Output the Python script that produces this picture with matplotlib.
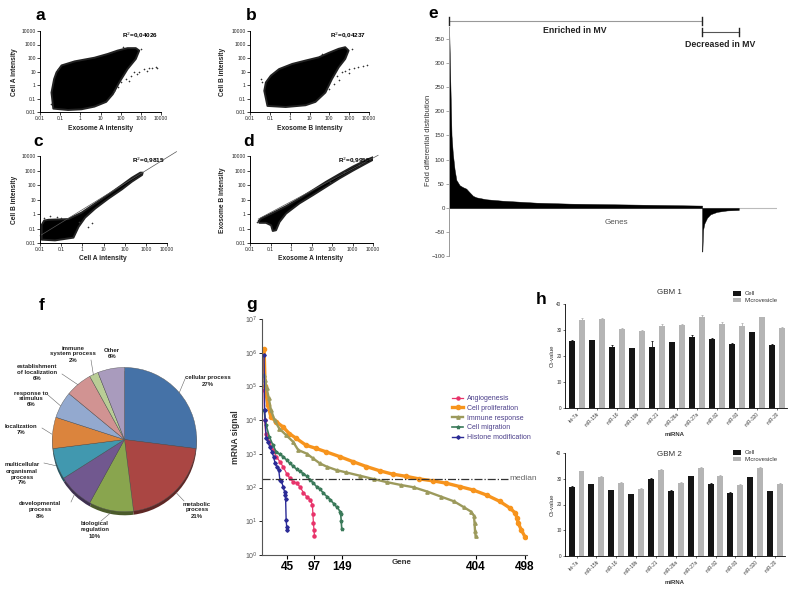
import numpy as np
import matplotlib.pyplot as plt
from matplotlib.lines import Line2D

plt.rcParams['font.family'] = ['Liberation Sans', 'DejaVu Sans']

# ---------- data (scatter clouds as log10 outlines) ----------
a_cloud_lx = [-1.34, -1.43, -1.30, -1.18, -0.93, -0.28, 0.70, 1.36, 1.85, 2.34, 2.75, 2.92, 2.75, 2.34, 1.93, 1.61, 1.28, 0.70, 0.05, -0.61]
a_cloud_ly = [-1.75, -0.56, 0.44, 0.94, 1.45, 1.75, 2.02, 2.30, 2.55, 2.73, 2.73, 2.55, 1.93, 1.18, 0.19, -0.68, -1.25, -1.60, -1.80, -1.85]
a_stray_lx = [2.02, 2.26, 2.51, 2.67, 2.92, 3.16, 3.41, 3.57, 3.74, 3.82, 1.69, 1.85, -1.13, 3.0, 2.1, -1.43, 2.4, 2.8, 3.3]
a_stray_ly = [0.19, 0.44, 0.69, 0.94, 0.94, 1.18, 1.23, 1.28, 1.31, 1.26, -0.43, -0.18, 1.18, 2.68, 2.8, -1.43, 0.3, 0.8, 1.05]

b_cloud_lx = [-1.12, -1.28, -1.20, -0.95, -0.53, 0.13, 0.80, 1.47, 1.97, 2.47, 2.80, 2.97, 2.80, 2.47, 2.13, 1.80, 1.30, 0.80, -0.20]
b_cloud_ly = [-1.55, -0.43, 0.19, 0.69, 1.18, 1.56, 1.81, 2.05, 2.38, 2.68, 2.80, 2.55, 1.93, 1.31, 0.44, -0.56, -1.25, -1.50, -1.63]
b_stray_lx = [2.38, 2.63, 2.80, 2.97, 3.22, 3.47, 3.72, 3.88, 1.97, 2.22, 3.13, -1.37, -1.45, 1.63, 2.5, 3.0]
b_stray_ly = [0.69, 0.94, 1.06, 1.18, 1.23, 1.31, 1.43, 1.48, -0.31, 0.06, 2.68, 0.19, 0.44, 2.30, 0.4, 0.9]

c_cloud_lx = [-1.92, -1.92, -1.80, -1.60, -0.66, -0.03, 0.61, 1.24, 1.87, 2.34, 2.74, 2.85, 2.82, 2.34, 1.87, 1.24, 0.61, 0.13, -0.18, -0.42, -1.29]
c_cloud_ly = [-1.77, -0.75, -0.45, -0.40, -0.35, 0.10, 0.73, 1.35, 2.00, 2.50, 2.85, 2.85, 2.69, 2.23, 1.70, 1.07, 0.38, -0.25, -0.89, -1.63, -1.82]
c_stray_lx = [-1.53, -1.80, -0.18, 0.29, -1.21, 0.45, -1.0]
c_stray_ly = [-0.15, -0.25, -0.55, -0.89, -0.20, -0.60, -0.25]
c_fit_lx = [-2.0, 4.45]
c_fit_ly = [-1.5, 4.3]

d_cloud_lx = [-1.58, -1.46, -0.89, -0.24, 0.41, 1.07, 1.72, 2.37, 3.02, 3.68, 4.08, 4.13, 3.68, 3.02, 2.37, 1.72, 1.07, 0.41, -0.24, -0.56, -0.73, -0.89, -0.97, -1.22, -1.54]
d_cloud_ly = [-0.48, -0.31, 0.08, 0.54, 1.07, 1.65, 2.23, 2.76, 3.27, 3.73, 3.96, 3.84, 3.50, 2.99, 2.46, 1.88, 1.30, 0.73, 0.03, -0.55, -1.12, -1.17, -0.78, -0.61, -0.61]
d_stray_lx = [-1.65, 1.9, 2.6, 3.3]
d_stray_ly = [-0.55, 2.2, 2.9, 3.4]
d_fit_lx = [-1.6, 4.25]
d_fit_ly = [-0.35, 4.05]

# ---------- panel e ----------
e_gene = [0, 2, 5, 10, 15, 22, 29, 42, 55, 68, 82, 95, 108, 147, 213, 345, 477, 608, 740, 872, 995, 1000]
e_fold = [380, 340, 265, 150, 113, 80, 58, 47, 43, 40, 32, 25, 22, 18, 15, 11, 9, 8, 7, 6, 5, 5]
e_dec_gene = [1000, 1001, 1004, 1009, 1020, 1033, 1059, 1099, 1145]
e_dec_fold = [-90, -90, -45, -32, -20, -13, -8, -5, -4]

# ---------- panel f ----------
go_terms = ['cellular process\n27%', 'metabolic\nprocess\n21%', 'biological\nregulation\n10%',
            'developmental\nprocess\n8%', 'multicellular\norganismal\nprocess\n7%', 'localization\n7%',
            'response to\nstimulus\n6%', 'establishment\nof localization\n6%', 'immune\nsystem process\n2%',
            'Other\n6%']
go_share = [27, 21, 10, 8, 7, 7, 6, 6, 2, 6]
go_colors = ['#4572A7', '#AA4643', '#89A54E', '#71588F', '#4198AF', '#DB843D',
             '#93A9CF', '#D19392', '#B9CD96', '#A99BBD']

# ---------- panel g ----------
histone_x = [1, 2, 3, 5, 8, 12, 16, 19, 22, 25, 29, 31, 34, 37, 40, 41, 42, 43, 44, 45]
histone_y = [8.3e5, 2.0e4, 1.0e4, 2900, 2300, 1600, 1150, 830, 520, 420, 330, 170, 160, 107, 76, 60, 45, 11, 7, 5.5]
angio_x = [1, 2, 4, 11, 18, 24, 31, 37, 44, 50, 56, 63, 69, 76, 82, 89, 93, 94, 95, 96, 97]
angio_y = [8e4, 1e4, 4000, 2300, 1300, 830, 590, 420, 260, 190, 150, 135, 107, 71, 54, 44, 31, 17, 9, 5.6, 3.7]
migr_x = [1, 5, 11, 18, 24, 31, 37, 44, 50, 56, 63, 69, 76, 82, 89, 95, 101, 108, 114, 121, 127, 134, 140, 146, 147, 148, 149]
migr_y = [2e4, 7000, 3200, 1800, 1150, 980, 830, 660, 520, 440, 350, 300, 260, 220, 170, 135, 107, 89, 68, 54, 44, 33, 26, 19.5, 16.6, 10, 5.9]
immune_x = [1, 3, 6, 10, 14, 21, 30, 43, 56, 66, 82, 94, 107, 120, 139, 158, 184, 210, 235, 261, 286, 312, 338, 363, 382, 395, 401, 402, 403, 404]
immune_y = [2.2e5, 1.5e5, 8.7e4, 4.4e4, 2e4, 1e4, 5600, 3600, 2300, 1300, 1020, 740, 525, 420, 330, 280, 224, 178, 145, 120, 102, 76, 54, 39, 26, 19.5, 14.5, 9, 5, 3.7]
prolif_x = [1, 3, 8, 14, 24, 37, 49, 62, 81, 100, 119, 145, 170, 196, 221, 246, 272, 297, 323, 348, 374, 399, 425, 450, 469, 480, 483, 485, 491, 498]
prolif_y = [1.3e6, 1e5, 2.8e4, 1.25e4, 9000, 6300, 4000, 2900, 1800, 1450, 1150, 830, 590, 420, 316, 250, 215, 180, 158, 135, 107, 85, 60, 39, 25, 17.4, 12.3, 9, 5.6, 3.5]
median_signal = 180
gene_ticks = [45, 97, 149, 404, 498]

# ---------- panel h ----------
mirnas = ['let-7a', 'miR-15b', 'miR-16', 'miR-19b', 'miR-21', 'miR-26a', 'miR-27a', 'miR-92', 'miR-93', 'miR-320', 'miR-20']
gbm1_cell = [25.9, 26.1, 23.6, 22.9, 23.6, 25.2, 27.5, 26.5, 24.7, 29.1, 24.2]
gbm1_cell_err = [0.3, 0.2, 0.6, 0.2, 2.0, 0.1, 0.5, 0.5, 0.4, 0.2, 0.3]
gbm1_mv = [33.9, 34.1, 30.3, 29.8, 31.4, 31.9, 34.9, 32.3, 31.6, 34.9, 30.7]
gbm1_mv_err = [0.9, 0.4, 0.3, 0.3, 0.8, 0.3, 1.0, 0.6, 1.1, 0.2, 0.6]
gbm2_cell = [26.8, 27.9, 25.5, 23.9, 29.9, 25.3, 31.0, 28.1, 24.5, 30.5, 25.2]
gbm2_cell_err = [0.2, 0.2, 0.2, 0.2, 0.2, 0.2, 0.2, 0.2, 0.2, 0.2, 0.2]
gbm2_mv = [32.9, 30.7, 28.5, 26.2, 33.4, 28.4, 34.3, 31.1, 27.7, 34.1, 27.9]
gbm2_mv_err = [0.3, 0.3, 0.3, 0.2, 0.3, 0.2, 0.3, 0.3, 0.3, 0.6, 0.3]

W, H = 800, 592
fig = plt.figure(figsize=(8, 5.92), dpi=100)


def box(l, t, r, b):
    return [l / W, 1 - b / H, (r - l) / W, (b - t) / H]


def txt(x, y, s, **kw):
    kw.setdefault('ha', 'center')
    kw.setdefault('va', 'center')
    fig.text(x / W, 1 - y / H, s, **kw)


def scatter_panel(rect, cx, cy, sx, sy, r2, fit=None):
    ax = fig.add_axes(box(*rect))
    ax.set_xscale('log')
    ax.set_yscale('log')
    ax.fill(10 ** np.array(cx), 10 ** np.array(cy), color='black', ec='#222', lw=1.4, joinstyle='round')
    ax.scatter(10 ** np.array(sx), 10 ** np.array(sy), marker='+', s=4, lw=0.4, color='#333')
    if fit is not None:
        ax.plot(10 ** np.array(fit[0]), 10 ** np.array(fit[1]), color='#555', lw=0.5, clip_on=False)
    dec = [0.01, 0.1, 1, 10, 100, 1000, 10000]
    lab = ['0.01', '0.1', '1', '10', '100', '1000', '10000']
    ax.set_xlim(0.01, 10000)
    ax.set_ylim(0.01, 10000)
    ax.minorticks_off()
    ax.set_xticks(dec)
    ax.set_xticklabels(lab)
    ax.set_yticks(dec)
    ax.set_yticklabels(lab)
    ax.tick_params(labelsize=3.6, length=2, width=0.6, pad=1, colors='#222')
    for s in ['top', 'right']:
        ax.spines[s].set_visible(False)
    for s in ['left', 'bottom']:
        ax.spines[s].set_linewidth(0.7)
    ax.text(0.98, 1.0, r2, transform=ax.transAxes, ha='right', va='top', fontsize=4.6, weight='bold')
    return ax


scatter_panel((40, 31, 161, 112), a_cloud_lx, a_cloud_ly, a_stray_lx, a_stray_ly, 'R$^2$=0,04026')
scatter_panel((250, 31, 369, 112), b_cloud_lx, b_cloud_ly, b_stray_lx, b_stray_ly, 'R$^2$=0,04237')
scatter_panel((40, 156, 167, 243), c_cloud_lx, c_cloud_ly, c_stray_lx, c_stray_ly, 'R$^2$=0,9815', (c_fit_lx, c_fit_ly))
scatter_panel((250, 156, 373, 243), d_cloud_lx, d_cloud_ly, d_stray_lx, d_stray_ly, 'R$^2$=0,9955', (d_fit_lx, d_fit_ly))

lab_kw = dict(fontsize=4.8, weight='bold', color='#222')
txt(100, 128, 'Exosome A intensity', **lab_kw)
txt(310, 128, 'Exosome B intensity', **lab_kw)
txt(103, 259, 'Cell A intensity', **lab_kw)
txt(311, 259, 'Exosome A intensity', **lab_kw)
txt(15, 72, 'Cell A intensity', rotation=90, **lab_kw)
txt(223, 72, 'Cell B intensity', rotation=90, **lab_kw)
txt(15, 200, 'Cell B intensity', rotation=90, **lab_kw)
txt(223, 200, 'Exosome B intensity', rotation=90, **lab_kw)

for x, y, s in [(40, 15, 'a'), (251, 15, 'b'), (38, 141, 'c'), (249, 141, 'd'),
                (433, 14, 'e'), (42, 306, 'f'), (252, 304, 'g'), (541, 300, 'h')]:
    txt(x, y, s, fontsize=12.5, weight='bold')

# ---------- e ----------
ax_e = fig.add_axes(box(449, 26.5, 777, 256.4))
ax_e.fill_between(e_gene, 0, e_fold, color='black', lw=0.3)
ax_e.fill_between(e_dec_gene, 0, e_dec_fold, color='black', lw=0.3)
ax_e.axhline(0, color='#bbbbbb', lw=0.8, zorder=0)
ax_e.set_xlim(0, 1296)
ax_e.set_ylim(-100, 375)
ax_e.set_yticks(range(-100, 351, 50))
ax_e.set_xticks([])
for s in ['top', 'right', 'bottom']:
    ax_e.spines[s].set_visible(False)
ax_e.spines['left'].set_color('#999')
ax_e.spines['left'].set_linewidth(0.7)
ax_e.tick_params(axis='y', labelsize=4.3, length=2, width=0.6, pad=1, colors='#999', labelcolor='#333')
ax_e.plot([0, 1000], [386, 386], color='#999', lw=0.8, clip_on=False)
ax_e.plot([1000, 1146], [364, 364], color='#555', lw=0.8, clip_on=False)
for gx, gy in [(0, 386), (1000, 386), (1000, 364), (1146, 364)]:
    ax_e.plot([gx, gx], [gy - 8, gy + 8], color='#222', lw=1.0, clip_on=False)
ax_e.text(498, 366, 'Enriched in MV', ha='center', va='center', fontsize=6.3, weight='bold', color='#222')
ax_e.text(1070, 337, 'Decreased in MV', ha='center', va='center', fontsize=6.3, weight='bold', color='#222')
ax_e.text(660, -29, 'Genes', ha='center', va='center', fontsize=5.8, color='#555')
txt(428, 140, 'Fold differential distribution', rotation=90, fontsize=5.4, color='#333')

# ---------- f ----------
ax_f = fig.add_axes(box(49.5, 366, 199.5, 516))
dark = [tuple(c * 0.55 for c in plt.matplotlib.colors.to_rgb(col)) for col in go_colors]
ax_f.pie(go_share, colors=dark, startangle=90, counterclock=False, center=(0, -0.05),
         wedgeprops=dict(linewidth=0))
wedges, _ = ax_f.pie(go_share, colors=go_colors, startangle=90, counterclock=False,
                     wedgeprops=dict(edgecolor='#555', linewidth=0.3))
ax_f.set_xlim(-1.02, 1.02)
ax_f.set_ylim(-1.06, 1.02)
ax_f.set_aspect('equal')

label_pos = [(208, 381), (197, 510), (95, 530), (40, 510), (22, 474), (21, 430),
             (31, 399), (37, 373), (73, 354), (112, 353)]
link_pos = [(185, 379), (184, 501), (101, 521), (71, 502), (44, 463), (42, 428),
            (48, 395), (62, 374), (91, 360), None]
for w, name, lp, cp in zip(wedges, go_terms, label_pos, link_pos):
    txt(lp[0], lp[1], name, fontsize=4.3, weight='bold', color='#222', linespacing=1.25)
    if cp is None:
        continue
    ang = np.deg2rad((w.theta1 + w.theta2) / 2)
    ex, ey = 124.5 + 73 * np.cos(ang), 441 - 73 * np.sin(ang)
    fig.add_artist(Line2D([cp[0] / W, ex / W], [1 - cp[1] / H, 1 - ey / H], color='#666', lw=0.4))

# ---------- g ----------
ax_g = fig.add_axes(box(262, 319, 527, 555))
series = [
    (angio_x, angio_y, '#e8336a', 'o', 2.2, 0.9, 'Angiogenesis'),
    (prolif_x, prolif_y, '#f7941d', 'o', 3.0, 2.4, 'Cell proliferation'),
    (immune_x, immune_y, '#9c9a5c', '^', 2.4, 1.7, 'Immune response'),
    (migr_x, migr_y, '#3b7a5a', '*', 2.6, 1.2, 'Cell migration'),
    (histone_x, histone_y, '#2b2b96', 'D', 1.8, 1.0, 'Histone modification'),
]
for gx, gy, col, mk, ms, lw, name in series:
    ax_g.plot(gx, gy, color=col, marker=mk, ms=ms, lw=lw, label=name)
ax_g.plot([-3, 465], [median_signal, median_signal], ls='-.', color='#333', lw=0.9)
ax_g.text(468, median_signal, 'median', va='center', ha='left', fontsize=6, color='#666')
ax_g.set_yscale('log')
ax_g.set_ylim(1, 1e7)
ax_g.set_xlim(-3, 502)
ax_g.minorticks_off()
ax_g.set_yticks([10 ** k for k in range(8)])
ax_g.set_yticklabels(['10$^{%d}$' % k for k in range(8)])
ax_g.set_xticks(gene_ticks)
ax_g.set_xticklabels([str(t) for t in gene_ticks])
ax_g.tick_params(axis='x', labelsize=8.5, length=3, width=0.8, pad=1)
ax_g.tick_params(axis='y', labelsize=5, length=2, width=0.6, pad=1, labelcolor='#555')
for lab in ax_g.get_xticklabels():
    lab.set_fontweight('bold')
for s in ['top', 'right']:
    ax_g.spines[s].set_visible(False)
for s in ['left', 'bottom']:
    ax_g.spines[s].set_linewidth(0.8)
    ax_g.spines[s].set_color('#555')
ax_g.legend(loc='upper left', bbox_to_anchor=(452 / W, 1 - 395 / H), bbox_transform=fig.transFigure,
            frameon=False, fontsize=5, handlelength=1.6, handletextpad=0.6, labelspacing=0.4,
            borderpad=0, borderaxespad=0, labelcolor='#4b3f8a')
txt(402, 563, 'Gene', fontsize=5.8, weight='bold', color='#333')
txt(236, 437, 'mRNA signal', rotation=90, fontsize=6.2, weight='bold', color='#333')


# ---------- h ----------
def bar_panel(rect, cell, cell_err, mv, mv_err, title, title_y, leg_y, xlab_y):
    ax = fig.add_axes(box(*rect))
    x = np.arange(len(mirnas))
    ax.bar(x - 0.25, cell, 0.3, yerr=cell_err, color='#151515', ecolor='#151515',
           error_kw=dict(lw=0.6, capsize=1, capthick=0.6), label='Cell')
    ax.bar(x + 0.25, mv, 0.3, yerr=mv_err, color='#b5b5b5', ecolor='#b5b5b5',
           error_kw=dict(lw=0.6, capsize=1, capthick=0.6), label='Microvesicle')
    ax.set_xlim(-0.58, 10.5)
    ax.set_ylim(0, 40)
    ax.set_yticks([0, 10, 20, 30, 40])
    ax.set_xticks(x)
    ax.set_xticklabels(mirnas, rotation=45, ha='right', rotation_mode='anchor')
    ax.tick_params(axis='both', labelsize=3.4, length=1.5, width=0.5, pad=1, colors='#333')
    for s in ['top', 'right']:
        ax.spines[s].set_visible(False)
    for s in ['left', 'bottom']:
        ax.spines[s].set_linewidth(0.6)
    ax.legend(loc='upper left', bbox_to_anchor=(733 / W, 1 - leg_y / H), bbox_transform=fig.transFigure,
              frameon=False, fontsize=4.3, handlelength=1.4, handleheight=0.8, handletextpad=0.5,
              labelspacing=0.25, borderpad=0, borderaxespad=0, labelcolor='#333')
    txt(669, title_y, title, fontsize=5.8, color='#333')
    txt(675, xlab_y, 'miRNA', fontsize=4.3, weight='bold', color='#333')
    txt(552, (rect[1] + rect[3]) / 2, 'Ct-value', rotation=90, fontsize=4.3, color='#333')


bar_panel((565, 304, 787, 408), gbm1_cell, gbm1_cell_err, gbm1_mv, gbm1_mv_err, 'GBM 1', 292, 291, 435)
bar_panel((565, 453, 785, 556), gbm2_cell, gbm2_cell_err, gbm2_mv, gbm2_mv_err, 'GBM 2', 454, 450, 582)

fig.savefig('out.png', dpi=100)
